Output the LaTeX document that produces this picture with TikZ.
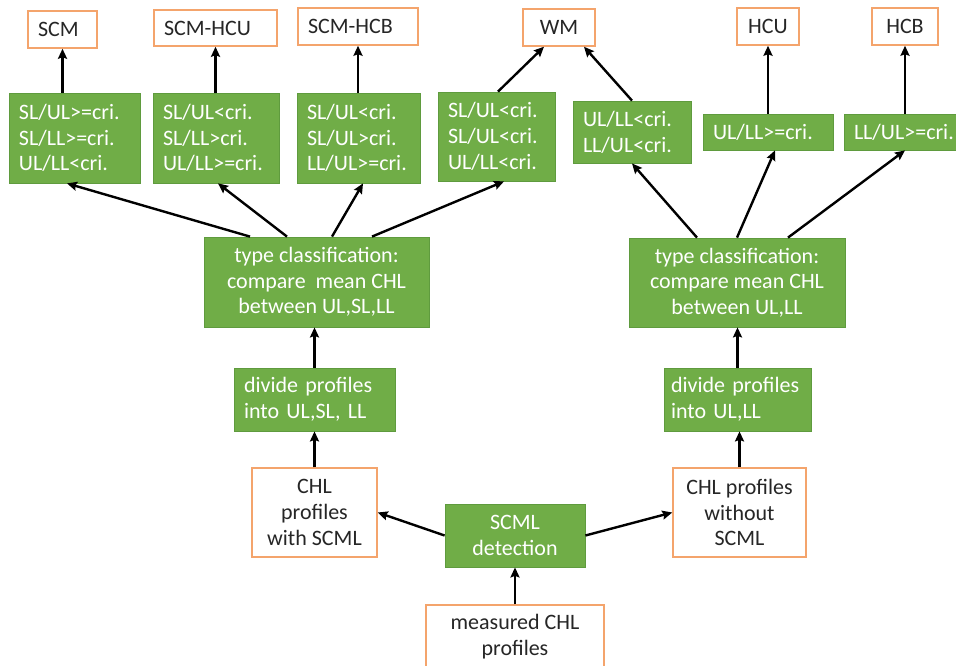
\documentclass[tikz,border=0pt]{standalone}
\usepackage{fontspec}
\setmainfont{Carlito}
\usetikzlibrary{arrows.meta}
\definecolor{leafgreen}{HTML}{70AD47}
\definecolor{leafedge}{HTML}{5F9B3E}
\definecolor{peach}{HTML}{F4A46C}

\begin{document}
\begin{tikzpicture}[x=1pt,y=-1pt,
  every node/.style={font=\fontsize{22}{25.7}\selectfont},
  res/.style={draw=peach, line width=1.5pt, fill=white, text=black!85, align=center, inner xsep=10pt, inner ysep=0pt},
  test/.style={draw=leafedge, line width=0.8pt, fill=leafgreen, text=white, align=left, inner xsep=10pt, inner ysep=0pt},
  arr/.style={-{Stealth[length=10pt,width=9pt,inset=1.5pt]}, line width=2.4pt}]
  \useasboundingbox (0,0) rectangle (956,666);
  % results on top
  \node[res, align=left, text width=49pt, minimum height=37pt] (scm) at (62.5,29.5) {SCM};
  \node[res, align=left, text width=103pt, minimum height=36pt] (scmhcu) at (215.5,28) {SCM-HCU};
  \node[res, align=left, text width=100pt, minimum height=37pt] (scmhcb) at (358,26.5) {SCM-HCB};
  \node[res, minimum width=72pt, minimum height=37pt] (wm) at (559,27.5) {WM};
  \node[res, minimum width=62pt, minimum height=37pt] (hcu) at (768,26.5) {HCU};
  \node[res, minimum width=66pt, minimum height=37pt] (hcb) at (905,26.5) {HCB};
  % criteria
  \node[test, text width=111pt, minimum height=90pt] (c1) at (74.5,138) {SL/UL>=cri.\\SL/LL>=cri.\\UL/LL<cri.};
  \node[test, text width=106pt, minimum height=90pt] (c2) at (216,138) {SL/UL<cri.\\SL/LL>cri.\\UL/LL>=cri.};
  \node[test, text width=103pt, minimum height=90pt] (c3) at (358.5,138) {SL/UL<cri.\\SL/UL>cri.\\LL/UL>=cri.};
  \node[test, text width=97pt, minimum height=89pt] (c4) at (496.5,136.5) {SL/UL<cri.\\SL/UL<cri.\\UL/LL<cri.};
  \node[test, text width=98pt, minimum height=62pt] (c5) at (632,132) {UL/LL<cri.\\LL/UL<cri.};
  \node[test, text width=110pt, minimum height=36pt] (c6) at (768,132) {UL/LL>=cri.};
  \node[test, text width=104pt, minimum height=36pt] (c7) at (906,132) {LL/UL>=cri.};
  % classification
  \node[test, align=center, minimum width=225pt, minimum height=90pt] (typeL) at (316.5,282) {type classification:\\compare~~mean CHL\\between UL,SL,LL};
  \node[test, align=center, minimum width=216pt, minimum height=89pt] (typeR) at (737,282.5) {type classification:\\compare mean CHL\\between UL,LL};
  \node[test, text width=141pt, minimum height=63pt] (divL) at (314.5,399.5) {divide profiles\\into UL,SL, LL};
  \node[test, text width=133pt, inner xsep=7pt, minimum height=63pt] (divR) at (737.5,399.5) {divide profiles\\into UL,LL};
  % profiles
  \node[res, minimum width=125pt, minimum height=89pt] (withS) at (314.5,512.5) {CHL\\profiles\\with SCML};
  \node[res, minimum width=133pt, minimum height=89pt] (withoutS) at (739.5,512.5) {CHL profiles\\without\\SCML};
  \node[test, align=center, minimum width=140pt, minimum height=63pt] (scml) at (515,535.5) {SCML\\detection};
  \node[res, minimum width=178pt, minimum height=63pt] (meas) at (515,636.5) {measured CHL\\profiles};

  \draw[arr] (meas.north) -- (meas.north |- scml.south);
  \draw[arr] (scml.west) -- (withS.east);
  \draw[arr] (scml.east) -- (withoutS.west);
  \draw[arr] (withS.north) -- (withS.north |- divL.south);
  \draw[arr] (withoutS.north) -- (withoutS.north |- divR.south);
  \draw[arr] (divL.north) -- (divL.north |- typeL.south);
  \draw[arr] (divR.north) -- (divR.north |- typeR.south);
  % left tree
  \draw[arr] ([xshift=-66.5pt]typeL.north) -- ([xshift=-7.5pt]c1.south);
  \draw[arr] ([xshift=-29.5pt]typeL.north) -- ([xshift=2pt]c2.south);
  \draw[arr] ([xshift=15.5pt]typeL.north) -- ([xshift=4.5pt]c3.south);
  \draw[arr] ([xshift=55.5pt]typeL.north) -- ([xshift=7.5pt]c4.south);
  % right tree
  \draw[arr] ([xshift=-40pt]typeR.north) -- (c5.south);
  \draw[arr] (typeR.north) -- ([xshift=7pt]c6.south);
  \draw[arr] ([xshift=51pt]typeR.north) -- ([xshift=-1pt]c7.south);
  % to results
  \draw[arr] (scm.south |- c1.north) -- (scm.south);
  \draw[arr] (scmhcu.south |- c2.north) -- (scmhcu.south);
  \draw[arr] (scmhcb.south |- c3.north) -- (scmhcb.south);
  \draw[arr] ([xshift=1.5pt]c4.north) -- ([xshift=-15pt]wm.south);
  \draw[arr] (c5.north) -- ([xshift=25pt]wm.south);
  \draw[arr] (hcu.south |- c6.north) -- (hcu.south);
  \draw[arr] (hcb.south |- c7.north) -- (hcb.south);
\end{tikzpicture}
\end{document}
